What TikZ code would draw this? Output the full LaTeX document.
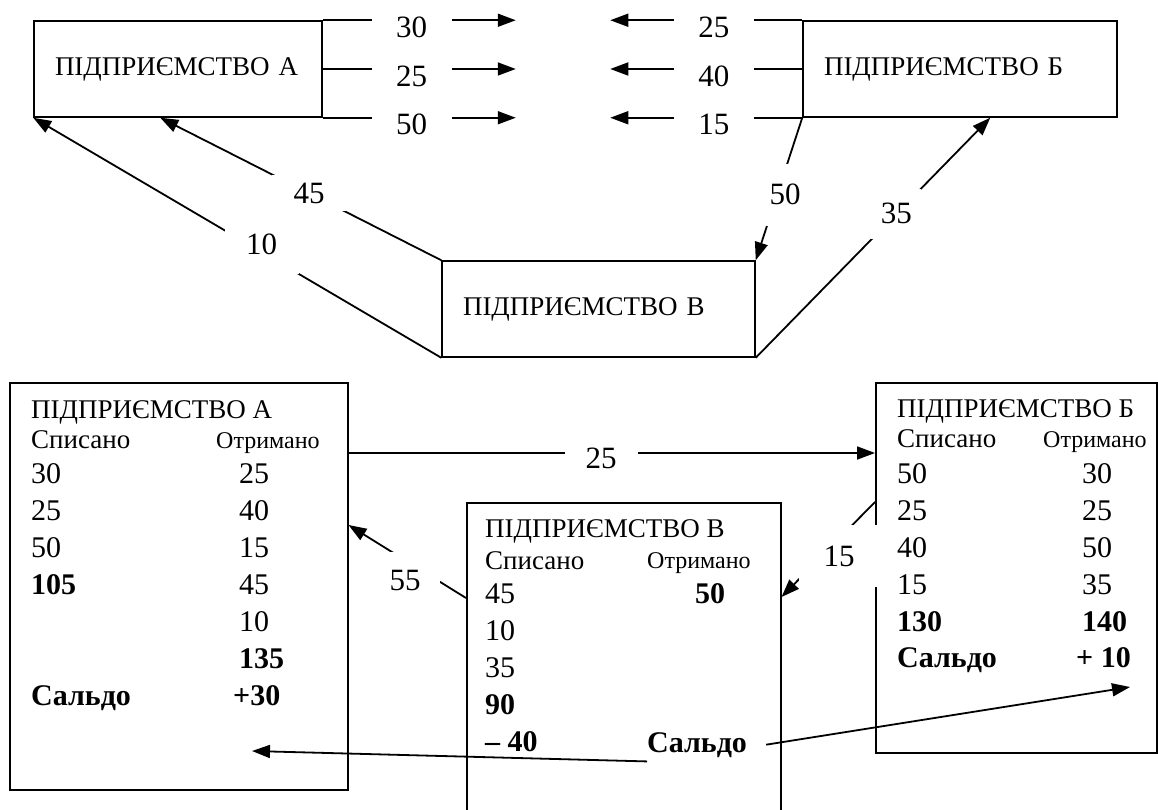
\documentclass[tikz,border=0pt]{standalone}
\usepackage{fontspec}
\setmainfont{Liberation Serif}
\usetikzlibrary{arrows.meta,positioning}

\begin{document}
\begin{tikzpicture}[x=1pt, y=-1pt,
  box/.style={draw, line width=1.5pt, inner sep=0pt},
  tbox/.style={box, align=left, inner xsep=21pt, minimum height=96pt,
               font=\fontsize{27}{32}\selectfont},
  ttl/.style={anchor=base west, inner sep=0pt, font=\fontsize{27}{32}\selectfont},
  sml/.style={anchor=base west, inner sep=0pt, font=\fontsize{24}{29}\selectfont},
  num/.style={anchor=base west, inner sep=0pt, font=\fontsize{30}{36}\selectfont},
  bnum/.style={num, font=\fontsize{30}{36}\selectfont\bfseries},
  lab/.style={fill=white, inner sep=0pt, font=\fontsize{31}{37}\selectfont},
  ln/.style={line width=1.8pt},
  arr/.style={ln, -{Triangle[length=18pt,width=13pt]}}]

  \useasboundingbox (0,0) rectangle (1158,810);

  % ---------- scheme of mutual debts ----------
  \node[tbox, text width=246pt] (ta) at (178,69)   {ПІДПРИЄМСТВО А};
  \node[tbox, text width=272pt] (tb) at (960,69)   {ПІДПРИЄМСТВО Б};
  \node[tbox, text width=271pt] (tv) at (598.5,309) {ПІДПРИЄМСТВО В};

  % A -> B
  \draw[arr] (ta.north east) -- ++(193,0) node[lab, pos=.46, minimum width=80pt, yshift=-7pt]{30};
  \draw[arr] (ta.east)       -- ++(193,0) node[lab, pos=.46, minimum width=80pt, yshift=-7pt]{25};
  \draw[arr] (ta.south east) -- ++(193,0) node[lab, pos=.46, minimum width=80pt, yshift=-7pt]{50};
  % B -> A
  \draw[arr] (tb.north west) -- ++(-192,0) node[lab, pos=.46, minimum width=80pt, yshift=-7pt]{25};
  \draw[arr] (tb.west)       -- ++(-192,0) node[lab, pos=.46, minimum width=80pt, yshift=-7pt]{40};
  \draw[arr] (tb.south west) -- ++(-192,0) node[lab, pos=.46, minimum width=80pt, yshift=-7pt]{15};

  % C <-> A, C <-> B
  \draw[arr] (tv.south west) -- (ta.south west)
    node[lab, pos=.44, minimum width=74pt, minimum height=60pt, yshift=8pt]{10};
  \draw[arr] (tv.north west) -- ([xshift=127pt]ta.south west)
    node[lab, pos=.47, minimum width=74pt, minimum height=36pt]{45};
  \draw[arr] (tb.south west) -- (tv.north east)
    node[lab, pos=.54, minimum width=52pt, minimum height=62pt, xshift=8pt]{50};
  \draw[arr] (tv.south east) -- ([xshift=188pt]tb.south west)
    node[lab, pos=.6, minimum width=50pt, minimum height=50pt]{35};

  % ---------- accounts ----------
  \node[box, minimum width=338pt, minimum height=407pt, anchor=north west] (la) at (9,382) {};
  \node[box, minimum width=281pt, minimum height=370pt, anchor=north west] (lb) at (875,382) {};
  \node[box, minimum width=314pt, minimum height=340pt, anchor=north west] (lv) at (466,502) {};

  % A
  \node[ttl] (la-t) at (31,418)  {ПІДПРИЄМСТВО А};
  \node[ttl] (la-s) at (31,448)  {Списано};
  \node[sml] (la-o) at (216,448) {Отримано};
  \foreach \v [count=\i] in {30,25,50,\textbf{105}}
    \node[num] (la-l\i) at (31,446+37*\i) {\v};
  \foreach \v [count=\i] in {25,40,15,45,10,\textbf{135}}
    \node[num] (la-r\i) at (239,446+37*\i) {\v};
  \node[bnum] (la-sal) at (31,705)  {Сальдо};
  \node[bnum] (la-bal) at (233,705) {+30};

  % B
  \node[ttl] (lb-t) at (897,417)  {ПІДПРИЄМСТВО Б};
  \node[ttl] (lb-s) at (897,447)  {Списано};
  \node[sml] (lb-o) at (1043,447) {Отримано};
  \foreach \v [count=\i] in {50,25,40,15,\textbf{130}}
    \node[num] (lb-l\i) at (897,446+37*\i) {\v};
  \foreach \v [count=\i] in {30,25,50,35,\textbf{140}}
    \node[num] (lb-r\i) at (1082,446+37*\i) {\v};
  \node[bnum] (lb-sal) at (897,667)  {Сальдо};
  \node[bnum] (lb-bal) at (1076,667) {+ 10};

  % C
  \node[ttl] (lv-t) at (485,537) {ПІДПРИЄМСТВО В};
  \node[ttl] (lv-s) at (485,569) {Списано};
  \node[sml] (lv-o) at (647,568) {Отримано};
  \foreach \v [count=\i] in {45,10,35,\textbf{90},\textbf{– 40}}
    \node[num] (lv-l\i) at (485,566+37*\i) {\v};
  \node[bnum] (lv-r1)  at (695,603) {50};
  \node[bnum] (lv-sal) at (647,752) {Сальдо};

  % transfers between accounts
  \draw[arr] ([yshift=-71pt]la.north east) -- ([yshift=-71pt]lb.north west)
    node[lab, pos=.48, minimum width=73pt, yshift=-5pt]{25};
  \draw[arr] ([yshift=-96pt]lv.north west) -- ([yshift=-143pt]la.north east);
  \node[lab, minimum width=70pt, minimum height=56pt] (l55) at (405,580) {55};
  \draw[arr] ([yshift=-120pt]lb.north west) -- ([yshift=-95pt]lv.north east);
  \node[lab, minimum width=80pt, minimum height=62pt] (l15) at (839,556) {15};

  % balance of C split to A and B
  \coordinate (a-end) at (252,751);
  \coordinate (b-end) at (1130,687);
  \draw[arr] ([yshift=-4pt]lv-sal.south west) -- (a-end);
  \draw[arr] ([xshift=19pt]lv-sal.east) -- (b-end);

\end{tikzpicture}
\end{document}
